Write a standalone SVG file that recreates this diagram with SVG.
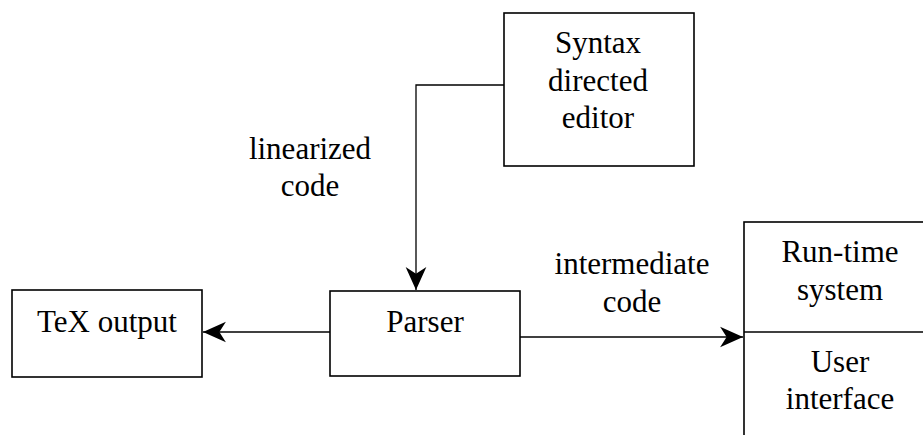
<svg xmlns="http://www.w3.org/2000/svg" width="923" height="435" viewBox="0 0 923 435">
  <style>
    .box { fill: #ffffff; stroke: #000000; stroke-width: 1.6; }
    .wire { fill: none; stroke: #000000; stroke-width: 1.3; }
    .lbl { font-family: "Liberation Serif", "Times New Roman", serif; font-size: 31px; fill: #000000; text-anchor: middle; }
  </style>
  <defs>
    <marker id="arrow" markerUnits="userSpaceOnUse" markerWidth="24" markerHeight="24" viewBox="-21 -10 22 20" refX="0" refY="0" orient="auto">
      <path d="M0,0 L-21,-9.5 L-15,0 L-21,9.5 Z" fill="#000000"/>
    </marker>
  </defs>
  <rect width="923" height="435" fill="#ffffff"/>

  <!-- connectors and their labels -->
  <g id="connectors">
    <polyline class="wire" points="504,85 416,85 416,290" marker-end="url(#arrow)"/>
    <line class="wire" x1="330" y1="332" x2="203" y2="332" marker-end="url(#arrow)"/>
    <line class="wire" x1="520" y1="337" x2="743" y2="337" marker-end="url(#arrow)"/>
    <text class="lbl" x="310" y="159">linearized</text>
    <text class="lbl" x="310" y="196">code</text>
    <text class="lbl" x="632" y="274">intermediate</text>
    <text class="lbl" x="632" y="312">code</text>
  </g>

  <g id="syntax-editor">
    <rect class="box" x="504" y="13" width="190" height="153"/>
    <text class="lbl" x="598" y="53">Syntax</text>
    <text class="lbl" x="598" y="91">directed</text>
    <text class="lbl" x="598" y="128">editor</text>
  </g>

  <g id="parser">
    <rect class="box" x="330" y="291" width="190" height="85"/>
    <text class="lbl" x="425" y="332">Parser</text>
  </g>

  <g id="tex-output">
    <rect class="box" x="12" y="290" width="190" height="87"/>
    <text class="lbl" x="107" y="332">TeX output</text>
  </g>

  <!-- split box running off the right and bottom edges -->
  <g id="runtime">
    <rect class="box" x="744" y="222" width="200" height="250"/>
    <line class="box" x1="744" y1="332" x2="923" y2="332"/>
    <text class="lbl" x="840" y="262">Run-time</text>
    <text class="lbl" x="840" y="300">system</text>
    <text class="lbl" x="840" y="372">User</text>
    <text class="lbl" x="840" y="409">interface</text>
  </g>
</svg>
